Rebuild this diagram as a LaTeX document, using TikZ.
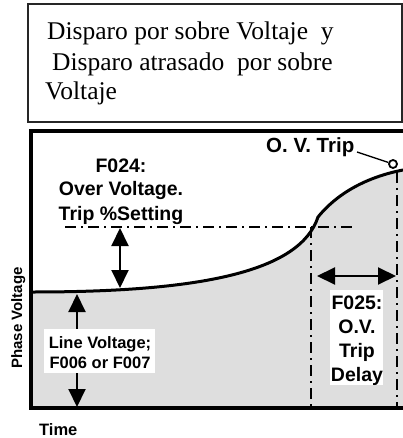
\documentclass[tikz,border=0pt]{standalone}
\usepackage{fontspec}
\setmainfont{Liberation Serif}
\newfontfamily\lsans{Liberation Sans}
\usetikzlibrary{arrows.meta}
\definecolor{fillgray}{RGB}{222,222,222}
\tikzset{
  lbl/.style={font=\lsans\bfseries\fontsize{19.5}{24}\selectfont, inner sep=0pt, align=center},
  smalllbl/.style={font=\lsans\bfseries\fontsize{16.5}{20}\selectfont, inner sep=0pt, align=center},
  titletxt/.style={font=\fontsize{25.5}{30}\selectfont, inner sep=0pt, anchor=base west},
  dashdot/.style={line width=1.8pt, dash pattern=on 11pt off 5pt on 2pt off 5pt},
  dblarrow/.style={line width=2pt, {Triangle[width=17pt,length=18pt]}-{Triangle[width=17pt,length=18pt]}},
  frameline/.style={line width=4pt},
}
\begin{document}
\begin{tikzpicture}[x=1pt,y=-1pt]
\useasboundingbox (0,0) rectangle (403,438);
% title box
\draw[line width=1.5pt, draw=black!85] (28,4) rectangle (402,122);
\node[titletxt] (t1) at (47,40) {Disparo por sobre Voltaje \ y};
\node[titletxt] (t2) at (52,71) {Disparo atrasado \ por sobre};
\node[titletxt] (t3) at (45,100) {Voltaje};
% grey area under curve
\fill[fillgray] (33,292) .. controls (200,292) and (300,272) .. (318,217)
  .. controls (340,190) and (372,176) .. (403,170) -- (403,408) -- (33,408) -- cycle;
% dash-dot lines
\coordinate (hl1) at (65,227);
\coordinate (hl2) at (352,227);
\coordinate (v1t) at (311,227);
\coordinate (v1b) at (311,406);
\coordinate (v2t) at (397,172);
\coordinate (v2b) at (397,406);
\draw[dashdot] (hl1) -- (hl2);
\draw[dashdot] (v1t) -- (v1b);
\draw[dashdot] (v2t) -- (v2b);
% curve
\draw[line width=3pt] (33,292) .. controls (200,292) and (300,272) .. (318,217)
  .. controls (340,190) and (372,176) .. (403,170);
% frame
\draw[frameline] (403,131) -- (31,131) -- (31,408) -- (403,408);
% arrows
\coordinate (a1t) at (120,228);
\coordinate (a1b) at (120,288);
\draw[dblarrow] (a1t) -- (a1b);
\coordinate (a2t) at (77,294);
\coordinate (a2b) at (77,407);
\draw[dblarrow] (a2t) -- (a2b);
\coordinate (a3l) at (317,276);
\coordinate (a3r) at (396,276);
\draw[dblarrow] (a3l) -- (a3r);
% labels
\node[lbl, anchor=base] (f024) at (121,172) {F024:};
\node[lbl, anchor=base] (ovv) at (121,196) {Over Voltage.};
\node[lbl, anchor=base] (tps) at (121,220) {Trip \%Setting};
\node[lbl, font=\lsans\bfseries\fontsize{20.5}{24}\selectfont, anchor=base west] (ovt) at (266,153) {O. V. Trip};
\node[draw, line width=1.8pt, circle, fill=white, inner sep=0pt, minimum size=8pt] (trip) at (393,164) {};
\coordinate (ovtend) at (357,152);
\draw[line width=1.3pt] (ovtend) -- (trip);
% line voltage label
\node[fill=white, minimum width=111pt, minimum height=44pt, inner sep=0pt] (lvbox) at (99.5,351) {};
\node[smalllbl, anchor=base] (lv1) at (100,348) {Line Voltage;};
\node[smalllbl, anchor=base] (lv2) at (100,368) {F006 or F007};
% F025 label
\node[fill=white, minimum width=53pt, minimum height=95pt, inner sep=0pt] (f25box) at (356.5,337.5) {};
\node[lbl, anchor=base] (f251) at (357,309) {F025:};
\node[lbl, anchor=base] (f252) at (357,333) {O.V.};
\node[lbl, anchor=base] (f253) at (357,357) {Trip};
\node[lbl, anchor=base] (f254) at (357,381) {Delay};
% axis labels
\node[font=\lsans\bfseries\fontsize{15}{18}\selectfont, inner sep=0pt, rotate=90, anchor=base] (pv) at (22,318) {Phase Voltage};
\node[smalllbl, anchor=base west] (time) at (39,435) {Time};
\end{tikzpicture}
\end{document}
